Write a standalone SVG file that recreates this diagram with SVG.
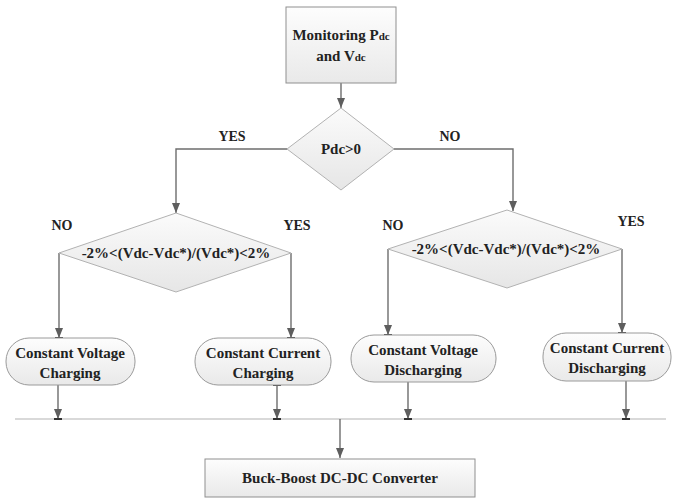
<svg xmlns="http://www.w3.org/2000/svg" width="673" height="498" viewBox="0 0 673 498">
<style>
text { font-family: "Liberation Serif", "Times New Roman", serif; font-weight: bold; fill: #222; text-anchor: middle; }
.t { font-size: 15px; }
.lbl { font-size: 14px; }
.box { fill: url(#gbox); stroke: #8f8f8f; stroke-width: 1; }
.dia { fill: url(#gdia); stroke: #b2b2b2; stroke-width: 1; }
.rnd { fill: url(#gbox); stroke: #9a9a9a; stroke-width: 1; }
.con { fill: none; stroke: #6d6d6d; stroke-width: 1.4; }
.bus { fill: none; stroke: #b4b4b4; stroke-width: 1.2; }
.tee { stroke: #333; stroke-width: 2; }
</style>
<defs>
<linearGradient id="gbox" x1="0" y1="0" x2="0" y2="1">
<stop offset="0" stop-color="#fdfdfd"/>
<stop offset="1" stop-color="#e9e9e9"/>
</linearGradient>
<linearGradient id="gdia" x1="0" y1="0" x2="0" y2="1">
<stop offset="0" stop-color="#fbfbfb"/>
<stop offset="1" stop-color="#e6e6e6"/>
</linearGradient>
<marker id="arr" markerUnits="userSpaceOnUse" markerWidth="10" markerHeight="8" refX="10" refY="4" orient="auto">
<path d="M0,0 L10,4 L0,8 z" fill="#5e5e5e"/>
</marker>
</defs>

<g id="connectors">
<path class="con" d="M341,83 V108" marker-end="url(#arr)"/>
<path class="con" d="M287,149 H176 V213" marker-end="url(#arr)"/>
<path class="con" d="M394,149 H513 V211" marker-end="url(#arr)"/>
<path class="con" d="M59,253 V338" marker-end="url(#arr)"/>
<path class="con" d="M291,253 V338" marker-end="url(#arr)"/>
<path class="con" d="M388,249 V335" marker-end="url(#arr)"/>
<path class="con" d="M622,249 V333" marker-end="url(#arr)"/>
<path class="bus" d="M15,419 H666"/>
<path class="con" d="M58,385 V419" marker-end="url(#arr)"/>
<path class="con" d="M277,385 V419" marker-end="url(#arr)"/>
<path class="con" d="M408,382 V419" marker-end="url(#arr)"/>
<path class="con" d="M626,381 V419" marker-end="url(#arr)"/>
<path class="con" d="M340,419 V458" marker-end="url(#arr)"/>
<g class="tee">
<line x1="55" y1="338" x2="63" y2="338"/>
<line x1="287" y1="338" x2="295" y2="338"/>
<line x1="384" y1="335" x2="392" y2="335"/>
<line x1="618" y1="333" x2="626" y2="333"/>
<line x1="273" y1="385" x2="281" y2="385"/>
<line x1="54" y1="419" x2="62" y2="419"/>
<line x1="273" y1="419" x2="281" y2="419"/>
<line x1="404" y1="419" x2="412" y2="419"/>
<line x1="622" y1="419" x2="630" y2="419"/>
</g>
<text class="lbl" x="232" y="141">YES</text>
<text class="lbl" x="450" y="141">NO</text>
<text class="lbl" x="62" y="230">NO</text>
<text class="lbl" x="297" y="230">YES</text>
<text class="lbl" x="393" y="230">NO</text>
<text class="lbl" x="631" y="226">YES</text>
</g>

<g id="monitor">
<rect class="box" x="286" y="7" width="110" height="76"/>
<text class="t" x="341" y="40">Monitoring P<tspan font-size="11">dc</tspan></text>
<text class="t" x="341" y="61">and V<tspan font-size="11">dc</tspan></text>
</g>

<g id="pdc">
<polygon class="dia" points="341,108 394,149 341,190 287,149"/>
<text class="t" x="341" y="154">Pdc&gt;0</text>
</g>

<g id="cond-left">
<polygon class="dia" points="176,213 291,253 176,292 59,253"/>
<text class="t" x="176" y="258" font-size="14.6">-2%&lt;(Vdc-Vdc*)/(Vdc*)&lt;2%</text>
</g>

<g id="cond-right">
<polygon class="dia" points="507,210 622,249 507,288 388,249"/>
<text class="t" x="506" y="254" font-size="14.6">-2%&lt;(Vdc-Vdc*)/(Vdc*)&lt;2%</text>
</g>

<g id="cvc">
<rect class="rnd" x="6" y="338" width="129" height="47" rx="23" ry="23"/>
<text class="t" x="70" y="358">Constant Voltage</text>
<text class="t" x="70" y="378">Charging</text>
</g>

<g id="ccc">
<rect class="rnd" x="195" y="338" width="136" height="47" rx="23" ry="23"/>
<text class="t" x="263" y="358">Constant Current</text>
<text class="t" x="263" y="378">Charging</text>
</g>

<g id="cvd">
<rect class="rnd" x="351" y="335" width="145" height="47" rx="23" ry="23"/>
<text class="t" x="423" y="355">Constant Voltage</text>
<text class="t" x="423" y="375">Discharging</text>
</g>

<g id="ccd">
<rect class="rnd" x="543" y="333" width="128" height="48" rx="23" ry="23"/>
<text class="t" x="607" y="353">Constant Current</text>
<text class="t" x="607" y="373">Discharging</text>
</g>

<g id="converter">
<rect class="box" x="205" y="459" width="270" height="38"/>
<text class="t" x="340" y="483">Buck-Boost DC-DC Converter</text>
</g>
</svg>
